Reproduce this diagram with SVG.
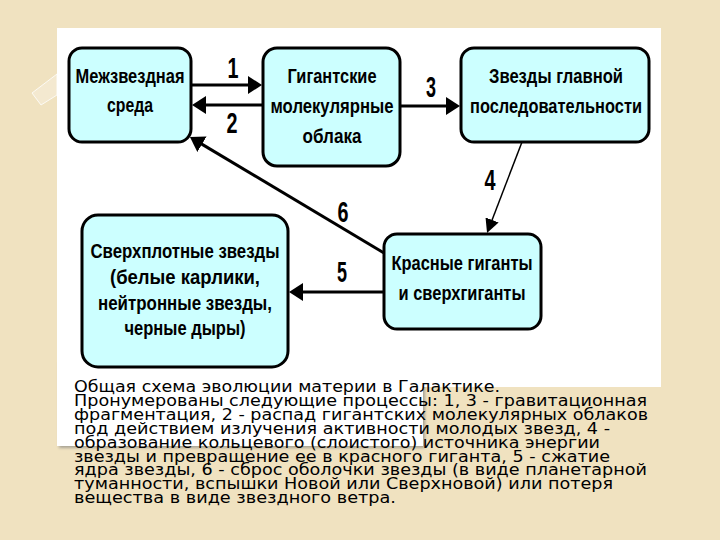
<svg xmlns="http://www.w3.org/2000/svg" width="720" height="540" viewBox="0 0 720 540">
<style>
.node rect{fill:#ccffff;stroke:#000;stroke-width:3}
.nt{font-family:"Liberation Sans",Arial,sans-serif;font-weight:bold;font-size:21px;fill:#000;text-anchor:middle}
.num{font-family:"Liberation Sans",Arial,sans-serif;font-weight:bold;font-size:30px;fill:#000;text-anchor:middle}
.thick{stroke:#000;stroke-width:3;fill:none;marker-end:url(#ah)}
.thin{stroke:#000;stroke-width:1.5;fill:none;marker-end:url(#ahs)}
.cap{font-family:"DejaVu Sans",sans-serif;font-size:15px;fill:#000}
</style>
<defs>
<marker id="ah" markerUnits="userSpaceOnUse" viewBox="0 0 14 18" refX="8" refY="9" markerWidth="14" markerHeight="18" orient="auto"><path d="M0,0 L14,9 L0,18 z" fill="#000"/></marker>
<marker id="ahs" markerUnits="userSpaceOnUse" viewBox="0 0 14 14" refX="8" refY="7" markerWidth="14" markerHeight="14" orient="auto"><path d="M0,0 L14,7 L0,14 z" fill="#000"/></marker>
<filter id="sh" x="-5%" y="-5%" width="115%" height="120%"><feGaussianBlur stdDeviation="1.5"/></filter>
</defs>
<rect x="0" y="0" width="720" height="540" fill="#f0e2c0"/>
<polygon points="32,93 57,74 57,95 41,105" fill="#ffffff" fill-opacity="0.25" stroke="#ffffff" stroke-opacity="0.8" stroke-width="1"/>
<rect x="59" y="362" width="366" height="86" fill="#777" opacity="0.6" filter="url(#sh)"/>
<rect x="57" y="360" width="366" height="86" fill="#ffffff"/>
<rect x="57" y="28" width="604" height="359" fill="#ffffff"/>

<g id="connectors">
<line class="thick" x1="191" y1="85" x2="256" y2="85"/>
<line class="thick" x1="263" y1="105" x2="198" y2="105"/>
<line class="thick" x1="400" y1="106" x2="454" y2="106"/>
<line class="thin" x1="522" y1="142" x2="489.2" y2="227.4"/>
<line class="thick" x1="384" y1="292" x2="295" y2="292"/>
<line class="thick" x1="384" y1="253" x2="195.1" y2="140.1"/>
<text class="num" x="233" y="78" textLength="11" lengthAdjust="spacingAndGlyphs">1</text>
<text class="num" x="232" y="133" textLength="11" lengthAdjust="spacingAndGlyphs">2</text>
<text class="num" x="431" y="97" textLength="10" lengthAdjust="spacingAndGlyphs">3</text>
<text class="num" x="490" y="190" textLength="11" lengthAdjust="spacingAndGlyphs">4</text>
<text class="num" x="343" y="222" textLength="11" lengthAdjust="spacingAndGlyphs">6</text>
<text class="num" x="342" y="282" textLength="10" lengthAdjust="spacingAndGlyphs">5</text>
</g>

<g id="n1" class="node">
<rect x="69" y="48" width="122" height="94" rx="13"/>
<text class="nt" x="130" y="83" textLength="109" lengthAdjust="spacingAndGlyphs">Межзвездная</text>
<text class="nt" x="130" y="112" textLength="46" lengthAdjust="spacingAndGlyphs">среда</text>
</g>
<g id="n2" class="node">
<rect x="263" y="48" width="137" height="118" rx="14"/>
<text class="nt" x="332" y="83" textLength="89" lengthAdjust="spacingAndGlyphs">Гигантские</text>
<text class="nt" x="332" y="113" textLength="123" lengthAdjust="spacingAndGlyphs">молекулярные</text>
<text class="nt" x="332" y="143" textLength="59" lengthAdjust="spacingAndGlyphs">облака</text>
</g>
<g id="n3" class="node">
<rect x="461" y="48" width="188" height="94" rx="13"/>
<text class="nt" x="556" y="83" textLength="134" lengthAdjust="spacingAndGlyphs">Звезды главной</text>
<text class="nt" x="556" y="113" textLength="172" lengthAdjust="spacingAndGlyphs">последовательности</text>
</g>
<g id="n4" class="node">
<rect x="384" y="234" width="157" height="95" rx="13"/>
<text class="nt" x="462" y="270" textLength="141" lengthAdjust="spacingAndGlyphs">Красные гиганты</text>
<text class="nt" x="462" y="300" textLength="127" lengthAdjust="spacingAndGlyphs">и сверхгиганты</text>
</g>
<g id="n5" class="node">
<rect x="82" y="215" width="206" height="152" rx="16"/>
<text class="nt" x="185" y="258" textLength="189" lengthAdjust="spacingAndGlyphs">Сверхплотные звезды</text>
<text class="nt" x="185" y="284" textLength="150" lengthAdjust="spacingAndGlyphs">(белые карлики,</text>
<text class="nt" x="185" y="310" textLength="174" lengthAdjust="spacingAndGlyphs">нейтронные звезды,</text>
<text class="nt" x="185" y="335" textLength="121" lengthAdjust="spacingAndGlyphs">черные дыры)</text>
</g>

<g id="caption" class="cap">
<text x="74" y="392" textLength="426" lengthAdjust="spacingAndGlyphs">Общая схема эволюции материи в Галактике.</text>
<text x="74" y="405.9" textLength="573" lengthAdjust="spacingAndGlyphs">Пронумерованы следующие процессы: 1, 3 - гравитационная</text>
<text x="74" y="419.8" textLength="574" lengthAdjust="spacingAndGlyphs">фрагментация, 2 - распад гигантских молекулярных облаков</text>
<text x="74" y="433.7" textLength="536" lengthAdjust="spacingAndGlyphs">под действием излучения активности молодых звезд, 4 -</text>
<text x="74" y="447.6" textLength="526" lengthAdjust="spacingAndGlyphs">образование кольцевого (слоистого) источника энергии</text>
<text x="74" y="461.5" textLength="536" lengthAdjust="spacingAndGlyphs">звезды и превращение ее в красного гиганта, 5 - сжатие</text>
<text x="74" y="475.4" textLength="573" lengthAdjust="spacingAndGlyphs">ядра звезды, 6 - сброс оболочки звезды (в виде планетарной</text>
<text x="74" y="489.3" textLength="539" lengthAdjust="spacingAndGlyphs">туманности, вспышки Новой или Сверхновой) или потеря</text>
<text x="74" y="503.2" textLength="322" lengthAdjust="spacingAndGlyphs">вещества в виде звездного ветра.</text>
</g>
</svg>
